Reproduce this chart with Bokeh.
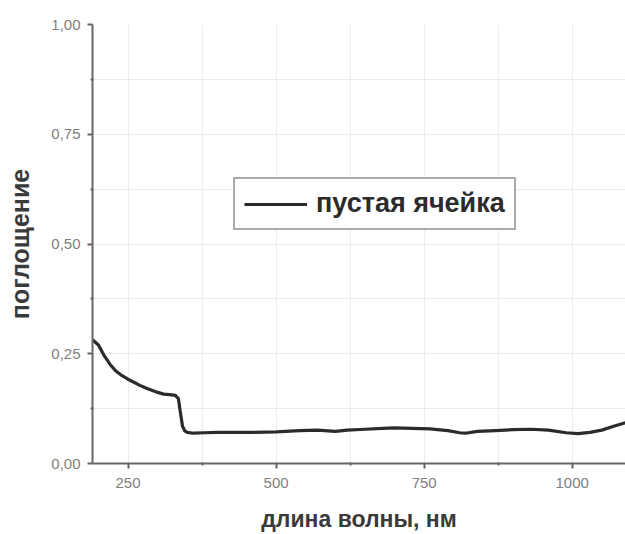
from bokeh.plotting import figure
from bokeh.models import (ColumnDataSource, Range1d, FixedTicker, CustomJSTickFormatter,
                          Legend, LegendItem)
from bokeh.embed import file_html
from bokeh.resources import INLINE

# Absorption spectrum of the empty cell
wavelength_nm = [190, 200, 210, 220, 230, 240, 250, 260, 270, 280, 290, 300, 310, 320,
                 330, 335, 338, 342, 346, 350, 360, 380, 400, 430, 460, 500, 540, 570,
                 600, 620, 650, 680, 700, 730, 760, 790, 810, 820, 840, 870, 900, 930,
                 960, 990, 1010, 1030, 1050, 1070, 1090]
absorbance = [0.282, 0.270, 0.245, 0.225, 0.210, 0.200, 0.192, 0.185, 0.178, 0.172,
              0.167, 0.162, 0.158, 0.157, 0.155, 0.148, 0.120, 0.085, 0.074, 0.071,
              0.069, 0.070, 0.071, 0.071, 0.071, 0.072, 0.075, 0.076, 0.073, 0.076,
              0.078, 0.080, 0.081, 0.080, 0.079, 0.075, 0.070, 0.069, 0.073, 0.075,
              0.077, 0.078, 0.076, 0.070, 0.068, 0.071, 0.076, 0.085, 0.093]

x_major = [250, 500, 750, 1000]
x_minor = [375, 625, 875]
y_major = [0.0, 0.25, 0.5, 0.75, 1.0]
y_minor = [0.125, 0.375, 0.625, 0.875]

series_name = "пустая ячейка"
x_title = "длина волны, нм"
y_title = "поглощение"

src = ColumnDataSource(dict(x=wavelength_nm, y=absorbance))

p = figure(width=625, height=534, output_backend="svg", toolbar_location=None,
           x_range=Range1d(190, 1090), y_range=Range1d(0, 1.0),
           min_border_left=92, min_border_right=0, min_border_top=24,
           min_border_bottom=71)
p.outline_line_color = None
p.background_fill_color = "white"

line = p.line("x", "y", source=src, line_color="#2b2b2b", line_width=3.2)

font = "Liberation Sans"
axis_color = "#666666"

p.xaxis.ticker = FixedTicker(ticks=x_major, minor_ticks=x_minor)
p.yaxis.ticker = FixedTicker(ticks=y_major, minor_ticks=y_minor)
p.yaxis.formatter = CustomJSTickFormatter(code="return tick.toFixed(2).replace('.', ',');")
p.xaxis.formatter = CustomJSTickFormatter(code="return tick.toFixed(0);")

for ax in (p.xaxis, p.yaxis):
    ax.axis_line_color = axis_color
    ax.axis_line_width = 2
    ax.major_tick_line_color = axis_color
    ax.major_tick_line_width = 2
    ax.major_tick_out = 5
    ax.major_tick_in = 0
    ax.minor_tick_line_color = axis_color
    ax.minor_tick_line_width = 2
    ax.minor_tick_out = 2
    ax.minor_tick_in = 1
    ax.major_label_text_font = font
    ax.major_label_text_font_size = "15px"
    ax.major_label_text_color = "#808080"
    ax.axis_label_text_font = font
    ax.axis_label_text_font_style = "bold"
    ax.axis_label_text_color = "#3a3a3a"

p.xaxis.axis_label = x_title
p.yaxis.axis_label = y_title
p.xaxis.axis_label_text_font_size = "23px"
p.yaxis.axis_label_text_font_size = "25px"
p.xaxis.major_label_standoff = 9
p.xaxis.axis_label_standoff = 15
p.yaxis.major_label_standoff = 7
p.yaxis.axis_label_standoff = 14

for g in (p.xgrid, p.ygrid):
    g.grid_line_color = "#ebebeb"
    g.grid_line_width = 1
    g.minor_grid_line_color = "#ebebeb"
    g.minor_grid_line_width = 1

legend = Legend(items=[LegendItem(label=series_name, renderers=[line])],
                location=(141, 233), orientation="vertical")
legend.border_line_color = "#555555"
legend.border_line_width = 2
legend.background_fill_color = "white"
legend.background_fill_alpha = 1.0
legend.padding = 9
legend.margin = 0
legend.glyph_width = 63
legend.glyph_height = 28
legend.label_height = 28
legend.label_standoff = 9
legend.label_text_font = font
legend.label_text_font_style = "bold"
legend.label_text_font_size = "27px"
legend.label_text_color = "#2b2b2b"
p.add_layout(legend, "center")

open("out.html", "w").write(file_html(p, INLINE))
